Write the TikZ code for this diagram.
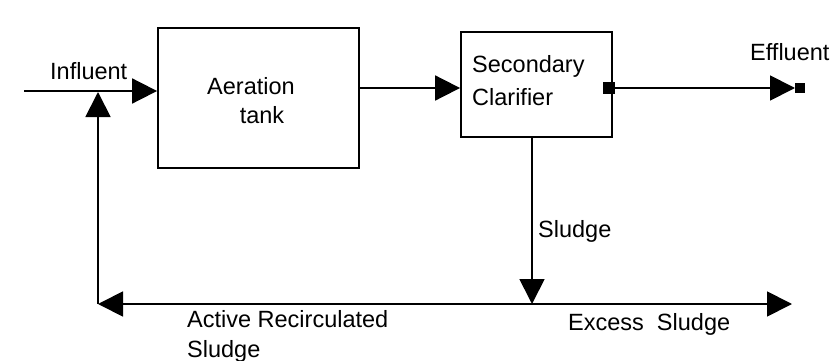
\documentclass[tikz,border=0pt]{standalone}
\usepackage{fontspec}
\setmainfont{Liberation Sans}
\usetikzlibrary{arrows.meta}
\tikzset{
  box/.style={draw, line width=1.8pt, inner sep=0pt},
  lbl/.style={inner sep=0pt, font=\fontsize{23.5}{28}\selectfont},
  flow/.style={line width=1.8pt, -{Triangle[length=25pt,width=25pt]}},
  port/.style={fill=black, inner sep=0pt}
}
\begin{document}
\begin{tikzpicture}[x=1pt,y=-1pt]
\path[use as bounding box] (0,0) rectangle (835,361);
% boxes
\node[box, minimum width=201pt, minimum height=140pt] (aer) at (258.5,98) {};
\node[box, minimum width=151pt, minimum height=105pt] (clar) at (536.5,84.5) {};
% box texts
\node[lbl, anchor=base] (taer) at (251,95) {Aeration};
\node[lbl, anchor=base] (ttank) at (262,123) {tank};
\node[lbl, anchor=base west] (tsec) at (472,73) {Secondary};
\node[lbl, anchor=base west] (tcla) at (472,105) {Clarifier};
% coordinates
\coordinate (inl) at (24,91);
\coordinate (mid) at (0,88);
\coordinate (eff) at (795,88);
\coordinate (junc) at (532,304);
\coordinate (corner) at (98,304);
\coordinate (exc) at (792,304);
\coordinate (upend) at (98,92);
% ports
\node[port, minimum width=12pt, minimum height=12pt] (cport) at (609,88) {};
\node[port, minimum width=10pt, minimum height=10pt] (eport) at (800,88) {};
% connectors
\draw[flow] (inl) -- (inl -| aer.west);
\draw[flow] (aer.east |- mid) -- (clar.west |- mid);
\draw[flow] (cport.east) -- (eff);
\draw[flow] (clar.south -| junc) -- (junc);
\draw[flow] (junc) -- (corner);
\draw[flow] (junc) -- (exc);
\draw[flow] (corner) -- (upend);
% labels
\node[lbl, anchor=base west] (linf) at (50,79) {Influent};
\node[lbl, anchor=base west] (leff) at (750,60) {Effluent};
\node[lbl, anchor=base west] (lslu) at (538,237) {Sludge};
\node[lbl, anchor=base west] (lexc) at (568,330) {Excess\ \ Sludge};
\node[lbl, anchor=base west] (lact) at (187,327) {Active Recirculated};
\node[lbl, anchor=base west] (lact2) at (187,357) {Sludge};
\end{tikzpicture}
\end{document}
